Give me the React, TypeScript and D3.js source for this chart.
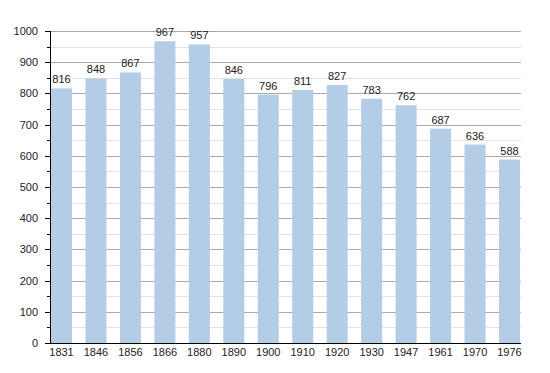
import React from "react";
import * as d3 from "d3";

const years = ["1831","1846","1856","1866","1880","1890","1900","1910","1920","1930","1947","1961","1970","1976"];
const population = [816,848,867,967,957,846,796,811,827,783,762,687,636,588];
const majorTicks = [0,100,200,300,400,500,600,700,800,900,1000];
const minorTicks = [50,150,250,350,450,550,650,750,850,950];

export default function App() {
  const W = 550, H = 373;
  const left = 50, right = 521, top = 31, bottom = 343;
  const x = d3.scaleBand<string>().domain(years).range([51, 520]).paddingInner(0.39).paddingOuter(0).align(0);
  const y = d3.scaleLinear().domain([0, 1000]).range([bottom, top]);
  const font = "Liberation Sans, Arial, Helvetica, sans-serif";
  return (
    <svg width={W} height={H} style={{ position: "absolute", left: 0, top: 0 }} fontFamily={font}>
      <rect width={W} height={H} fill="#fff" />
      {minorTicks.map(t => (
        <g key={"m"+t}>
          <line x1={left} x2={right} y1={Math.round(y(t)) + 0.5} y2={Math.round(y(t)) + 0.5} stroke="#e2e2e2" />
          <line x1={left - 3} x2={left} y1={Math.round(y(t)) + 0.5} y2={Math.round(y(t)) + 0.5} stroke="#000" />
        </g>
      ))}
      {majorTicks.map(t => (
        <g key={"M"+t}>
          {t > 0 && <line x1={left} x2={right} y1={Math.round(y(t)) + 0.5} y2={Math.round(y(t)) + 0.5} stroke="#aaaaaa" />}
          <line x1={left - 5} x2={left} y1={Math.round(y(t)) + 0.5} y2={Math.round(y(t)) + 0.5} stroke="#000" />
          <text x={38} y={y(t) + 4} fontSize={11} textAnchor="end" fill="#222">{t}</text>
        </g>
      ))}
      {years.map((yr, i) => (
        <g key={yr}>
          <rect x={x(yr)} y={y(population[i])} width={x.bandwidth()} height={bottom - y(population[i])} fill="#b3cde6" />
          <text x={(x(yr) as number) + x.bandwidth() / 2} y={y(population[i]) - 5} fontSize={11} textAnchor="middle" fill="#222">{population[i]}</text>
          <text x={(x(yr) as number) + x.bandwidth() / 2} y={356} fontSize={11} textAnchor="middle" fill="#222">{yr}</text>
        </g>
      ))}
      <line x1={left + 0.5} x2={left + 0.5} y1={top} y2={bottom} stroke="#000" />
      <line x1={left} x2={right} y1={bottom + 0.5} y2={bottom + 0.5} stroke="#000" />
    </svg>
  );
}
